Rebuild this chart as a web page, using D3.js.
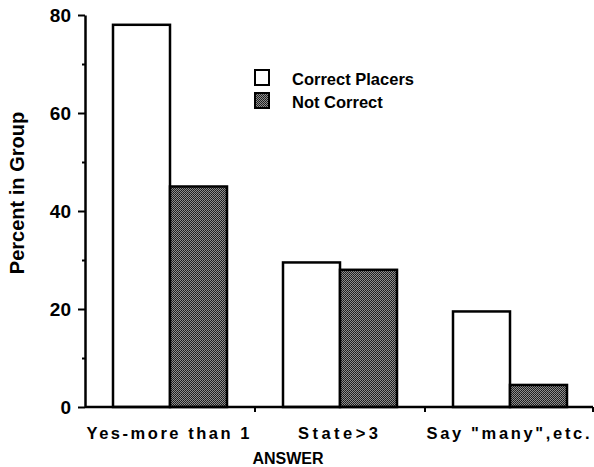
<!DOCTYPE html>
<html>
<head>
<meta charset="utf-8">
<script src="https://cdn.jsdelivr.net/npm/d3@7"></script>
<style>
  body { margin: 0; background: #fff; }
  text { font-family: "Liberation Sans", Arial, sans-serif; font-weight: bold; fill: #000; }
</style>
</head>
<body>
<div id="chart"></div>
<script>
var categories = ["Yes-more than 1", "State>3", "Say \"many\",etc."];
var series = ["Correct Placers", "Not Correct"];
var correctPlacers = [78, 29.5, 19.5];
var notCorrect = [45, 28, 4.5];
var yTicks = [0, 10, 20, 30, 40, 50, 60, 70, 80];
var labelWidths = [163, 80, 163];

var width = 594, height = 467;
var svg = d3.select("#chart").append("svg")
    .attr("width", width)
    .attr("height", height);

var defs = svg.append("defs");
var pat = defs.append("pattern")
    .attr("id", "stipple")
    .attr("width", 2).attr("height", 2)
    .attr("patternUnits", "userSpaceOnUse");
pat.append("rect").attr("width", 2).attr("height", 2).attr("fill", "#8e8e8e");
pat.append("rect").attr("width", 1).attr("height", 1).attr("fill", "#1a1a1a");
pat.append("rect").attr("x", 1).attr("y", 1).attr("width", 1).attr("height", 1).attr("fill", "#262626");

var y = d3.scaleLinear().domain([0, 80]).range([407, 15]);
var x = d3.scaleBand().domain(categories).range([85, 595]);
var xs = d3.scaleBand().domain(series).range([28, 142]);
var fills = { "Correct Placers": "#fff", "Not Correct": "url(#stipple)" };

var rows = categories.map(function (c, i) {
    return { cat: c, values: [
        { s: series[0], v: correctPlacers[i] },
        { s: series[1], v: notCorrect[i] }
    ] };
});

// bars
var groups = svg.append("g").selectAll("g")
    .data(rows)
    .enter().append("g")
    .attr("transform", function (d) { return "translate(" + x(d.cat) + ",0)"; });

groups.selectAll("rect")
    .data(function (d) { return d.values; })
    .enter().append("rect")
    .attr("x", function (d) { return xs(d.s); })
    .attr("y", function (d) { return y(d.v); })
    .attr("width", xs.bandwidth())
    .attr("height", function (d) { return y(0) - y(d.v); })
    .attr("fill", function (d) { return fills[d.s]; })
    .attr("stroke", "#000")
    .attr("stroke-width", 2.5);

// y axis
var yAxis = svg.append("g")
    .attr("transform", "translate(85,0)")
    .call(d3.axisLeft(y)
        .tickValues(yTicks)
        .tickSizeOuter(0)
        .tickFormat(function (d) { return d % 20 === 0 ? d : ""; }));
yAxis.select(".domain").attr("stroke-width", 2.5);
yAxis.selectAll(".tick line")
    .attr("stroke-width", 2)
    .attr("x2", function (d) { return d % 20 === 0 ? -7 : -3; });
yAxis.selectAll(".tick text")
    .attr("x", -14)
    .style("font-size", "19px")
    .style("font-family", "'Liberation Sans', Arial, sans-serif")
    .style("font-weight", "bold");

// x axis
var xAxis = svg.append("g")
    .attr("transform", "translate(0,407)");
xAxis.append("line")
    .attr("x1", 85).attr("x2", 593)
    .attr("stroke", "#000").attr("stroke-width", 2.5);
xAxis.selectAll(".xtick")
    .data(categories)
    .enter().append("line")
    .attr("class", "xtick")
    .attr("x1", function (d) { return Math.min(593, x(d) + x.bandwidth()); })
    .attr("x2", function (d) { return Math.min(593, x(d) + x.bandwidth()); })
    .attr("y1", 0).attr("y2", 5)
    .attr("stroke", "#000").attr("stroke-width", 2);

xAxis.selectAll(".xlabel")
    .data(categories)
    .enter().append("text")
    .attr("class", "xlabel")
    .attr("x", function (d) { return x(d) + x.bandwidth() / 2 - 2; })
    .attr("y", 32)
    .attr("text-anchor", "middle")
    .attr("textLength", function (d, i) { return labelWidths[i]; })
    .attr("lengthAdjust", "spacing")
    .style("font-size", "16.5px")
    .text(function (d) { return d; });

svg.append("text")
    .attr("x", 288)
    .attr("y", 464)
    .attr("text-anchor", "middle")
    .style("font-size", "16px")
    .text("ANSWER");

svg.append("text")
    .attr("transform", "translate(24,193) rotate(-90)")
    .attr("text-anchor", "middle")
    .style("font-size", "20px")
    .text("Percent in Group");

// legend
var legend = svg.append("g").selectAll("g")
    .data(series)
    .enter().append("g")
    .attr("transform", function (d, i) { return "translate(255," + (70 + i * 23) + ")"; });
legend.append("rect")
    .attr("width", 14).attr("height", 15)
    .attr("fill", function (d) { return fills[d]; })
    .attr("stroke", "#000").attr("stroke-width", 2);
legend.append("text")
    .attr("x", 37).attr("y", 15)
    .style("font-size", "16.5px")
    .text(function (d) { return d; });
</script>
</body>
</html>
